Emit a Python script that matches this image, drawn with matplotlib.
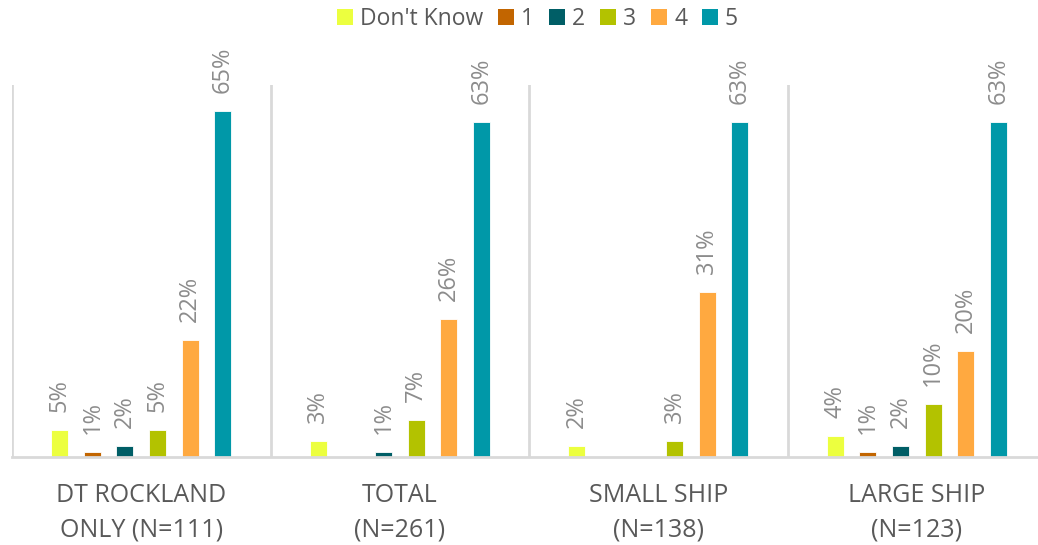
import numpy as np
import matplotlib
matplotlib.use("Agg")
import matplotlib.pyplot as plt
from matplotlib.patches import Patch

# Data (percent of respondents)
groups = ["DT ROCKLAND\nONLY (N=111)", "TOTAL\n(N=261)", "SMALL SHIP\n(N=138)", "LARGE SHIP\n(N=123)"]
series = ["Don't Know", "1", "2", "3", "4", "5"]
dont_know = [5, 3, 2, 4]
r1 = [1, 0, 0, 1]
r2 = [2, 1, 0, 2]
r3 = [5, 7, 3, 10]
r4 = [22, 26, 31, 20]
r5 = [65, 63, 63, 63]
values = [dont_know, r1, r2, r3, r4, r5]
colors = ["#ECFF3F", "#C26500", "#005E66", "#B3C200", "#FFA940", "#0098A8"]

plt.rcParams['font.family'] = ['Open Sans', 'DejaVu Sans']

fig = plt.figure(figsize=(10.38, 5.45), dpi=100)
ax = fig.add_axes([12 / 1038, 1 - 457 / 545, 1 - 12 / 1038, (457 - 85) / 545])

x = np.arange(len(groups))
step = 0.126
width = 0.066
for i, (name, vals, c) in enumerate(zip(series, values, colors)):
    pos = x + (i - 2.5) * step
    bars = ax.bar(pos, vals, width, color=c, edgecolor='white', linewidth=0.6, label=name)
    for b, v in zip(bars, vals):
        if v > 0:
            ax.annotate(f"{v}%", (b.get_x() + b.get_width() / 2, v),
                        xytext=(0, 13), textcoords='offset points',
                        rotation=90, ha='center', va='bottom',
                        fontsize=17, color='#8c8c8c')

ax.set_xlim(-0.5, 3.5 - 8 / 258.5)
ax.set_ylim(0, 69.9)

# group separators
for s in [-0.5, 0.5, 1.5, 2.5]:
    ax.axvline(s, color='#d9d9d9', linewidth=2, zorder=0)

for sp in ['top', 'right', 'left']:
    ax.spines[sp].set_visible(False)
ax.spines['bottom'].set_color('#d9d9d9')
ax.spines['bottom'].set_linewidth(2)
ax.set_yticks([])
ax.set_xticks(x)
ax.set_xticklabels(groups, fontsize=18, color='#595959', linespacing=1.5)
ax.tick_params(axis='x', length=0, pad=19)

handles = [Patch(facecolor=c, edgecolor='none') for c in colors]
fig.legend(handles, series, loc='center', bbox_to_anchor=(0.518, 1 - 19 / 545),
           ncol=6, frameon=False, handlelength=0.7, handleheight=0.7,
           handletextpad=0.3, columnspacing=0.65, labelcolor='#595959',
           prop={'size': 16.5})

fig.savefig("out.png", dpi=100)
